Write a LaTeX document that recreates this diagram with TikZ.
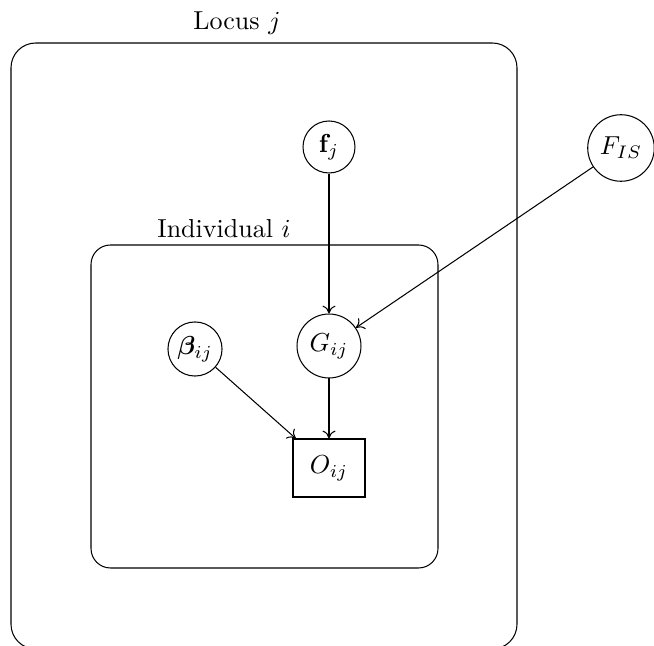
\documentclass[tikz,border=0pt]{standalone}
\usepackage{amsmath,bm}
\usetikzlibrary{arrows.meta}
\begin{document}
\begin{tikzpicture}[x=0.3846pt,y=-0.3846pt,
  var/.style={circle,draw,inner sep=0pt},
  obs/.style={rectangle,draw,inner sep=0pt,minimum width=27.7pt,minimum height=22.3pt},
  plate/.style={draw,rounded corners=9.5pt},
  edge/.style={-{To[length=3pt,width=5pt]}}]
\useasboundingbox (0,0) rectangle (654,646);
\clip (0,0) rectangle (654,646);
% plates
\draw[plate] (11,43) rectangle (517,649);
\draw[plate,rounded corners=7.5pt] (91,245) rectangle (438,568);
\node (locuslbl) at (237,23) {Locus $j$};
\node (indlbl) at (224,229) {Individual $i$};
% nodes
\node[var,minimum size=20pt] (f) at (329,147) {$\mathbf{f}_j$};
\node[var,minimum size=25.6pt] (F) at (621,148) {$F_{IS}$};
\node[var,minimum size=24.6pt] (G) at (329,346) {$G_{ij}$};
\node[var,minimum size=20.8pt] (b) at (195,349) {$\bm{\beta}_{ij}$};
\node[obs] (O) at (329,468) {$O_{ij}$};
% edges
\draw[edge] (f) -- (G);
\draw[edge] (F) -- (G);
\draw[edge] (G) -- (O);
\draw[edge] (b) -- (O);
\end{tikzpicture}
\end{document}
